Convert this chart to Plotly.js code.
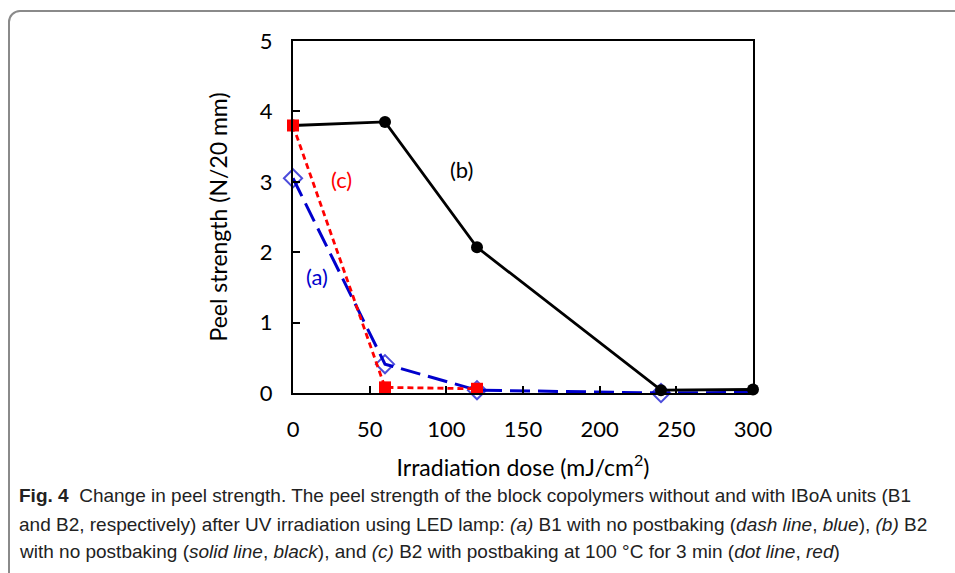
<!DOCTYPE html>
<html>
<head>
<meta charset="utf-8">
<script src="https://cdn.plot.ly/plotly-3.0.1.min.js"></script>
<style>
  html, body { margin: 0; padding: 0; background: #fff; }
  #wrap { position: relative; width: 955px; height: 573px; overflow: hidden; }
  #chart { width: 955px; height: 573px; }
  #frame { position: absolute; left: 8px; top: 10px; width: 980px; height: 600px;
           border: 2px solid #8a8a8a; border-top-left-radius: 12px; pointer-events: none; box-sizing: border-box; }
</style>
</head>
<body>
<div id="wrap">
  <div id="chart"></div>
  <div id="frame"></div>
</div>
<script>
// Data
const doseA = [0, 60, 120, 240, 300];
const peelA = [3.05, 0.41, 0.04, 0.0, 0.01];
const doseB = [0, 60, 120, 240, 300];
const peelB = [3.8, 3.85, 2.07, 0.04, 0.05];
const doseC = [0, 60, 120];
const peelC = [3.8, 0.08, 0.06];
const xTicks = [0, 50, 100, 150, 200, 250, 300];
const yTicks = [0, 1, 2, 3, 4, 5];
const captionLines = [
  "<b>Fig. 4</b>  Change in peel strength. The peel strength of the block copolymers without and with IBoA units (B1",
  "and B2, respectively) after UV irradiation using LED lamp: <i>(a)</i> B1 with no postbaking (<i>dash line</i>, <i>blue</i>), <i>(b)</i> B2",
  "with no postbaking (<i>solid line</i>, <i>black</i>), and <i>(c)</i> B2 with postbaking at 100 °C for 3 min (<i>dot line</i>, <i>red</i>)"
];

const FONT = "Lato, 'Open Sans', sans-serif";
const CAPFONT = "'Liberation Sans', Arial, sans-serif";

const traces = [
  {
    x: doseA, y: peelA, mode: 'lines+markers', name: '(a)',
    line: {color: '#0000cc', width: 3, dash: '20px,8px'},
    marker: {symbol: 'diamond-open', size: [14, 14, 14, 14, 0], color: '#0000cc', line: {width: 2, color: '#0000cc'}},
    cliponaxis: false
  },
  {
    x: doseB, y: peelB, mode: 'lines+markers', name: '(b)',
    line: {color: '#000000', width: 2.8},
    marker: {symbol: 'circle', size: 12, color: '#000000'},
    cliponaxis: false
  },
  {
    x: doseC, y: peelC, mode: 'lines+markers', name: '(c)',
    line: {color: '#ff0000', width: 2.8, dash: '6px,4px'},
    marker: {symbol: 'square', size: 12, color: '#ff0000'},
    cliponaxis: false
  }
];

const annotations = [
  {x: 110, y: 3.17, text: '(b)', showarrow: false, font: {family: FONT, size: 22, color: '#000'}},
  {x: 31.5, y: 3.03, text: '(c)', showarrow: false, font: {family: FONT, size: 22, color: '#ff0000'}},
  {x: 15.5, y: 1.66, text: '(a)', showarrow: false, font: {family: FONT, size: 22, color: '#0000cc'}}
];
const capY = [496, 524, 551];
captionLines.forEach((t, i) => {
  annotations.push({
    xref: 'paper', yref: 'paper', x: (17 - 293) / 460, y: (393 - capY[i]) / 352,
    xanchor: 'left', yanchor: 'middle', align: 'left', showarrow: false, text: t,
    font: {family: CAPFONT, size: 19, color: '#222'}
  });
});

const layout = {
  width: 955, height: 573,
  margin: {l: 293, r: 202, t: 41, b: 180},
  paper_bgcolor: '#fff', plot_bgcolor: '#fff',
  showlegend: false,
  xaxis: {
    range: [0, 300], tickvals: xTicks, ticks: 'inside', ticklen: 7, tickwidth: 2, tickcolor: '#000',
    ticklabelstandoff: 16,
    showline: true, linecolor: '#000', linewidth: 2, mirror: true, showgrid: false, zeroline: false,
    tickfont: {family: FONT, size: 22, color: '#000'},
    title: {text: 'Irradiation dose (mJ/cm<sup>2</sup>)', font: {family: FONT, size: 23, color: '#000'}, standoff: 18}
  },
  yaxis: {
    range: [0, 5], tickvals: yTicks, ticks: 'inside', ticklen: 7, tickwidth: 2, tickcolor: '#000',
    ticklabelstandoff: 14,
    showline: true, linecolor: '#000', linewidth: 2, mirror: true, showgrid: false, zeroline: false,
    tickfont: {family: FONT, size: 22, color: '#000'},
    title: {text: 'Peel strength (N/20 mm)', font: {family: FONT, size: 23, color: '#000'}, standoff: 26}
  },
  annotations: annotations
};

Plotly.newPlot('chart', traces, layout, {displayModeBar: false, staticPlot: true});
</script>
</body>
</html>
